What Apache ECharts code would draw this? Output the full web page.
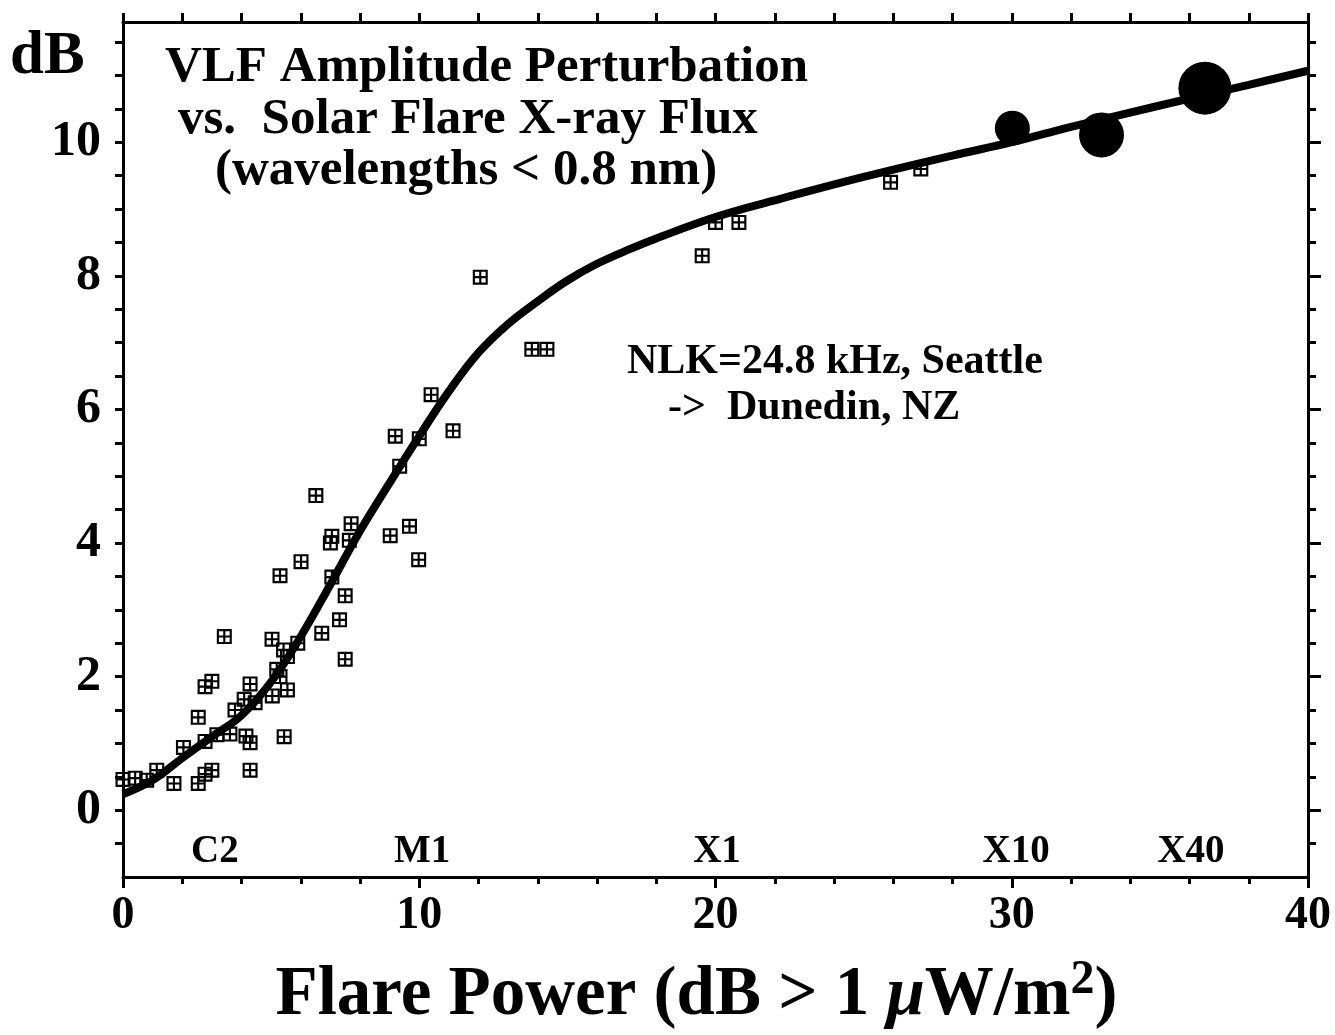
<!DOCTYPE html>
<html>
<head>
<meta charset="utf-8">
<script src="https://cdn.jsdelivr.net/npm/echarts@6/dist/echarts.min.js"></script>
<style>html,body{margin:0;padding:0;background:#fff}#c{width:1335px;height:1035px}</style>
</head>
<body>
<div id="c"></div>
<script>
// ---- data ----
const obsX = [0,0.41,0.8,1.14,1.72,2.04,2.54,2.54,2.77,3.0,2.77,2.77,3.0,3.17,3.42,3.61,3.78,4.09,4.15,4.29,4.29,4.29,4.46,5.03,5.04,5.19,5.3,5.44,5.55,5.42,5.55,5.9,5.3,6.01,6.51,6.71,7.05,7.31,7.5,7.5,7.0,7.05,7.64,7.7,9.02,9.19,9.34,9.67,9.98,10.0,10.4,11.14,12.06,13.8,14.31,19.55,20.0,20.79,25.91,26.93];
const obsY = [0.46,0.48,0.45,0.6,0.4,0.94,1.39,0.4,0.54,0.6,1.03,1.85,1.93,1.13,2.6,1.14,1.5,1.66,1.11,1.01,1.89,0.6,1.61,2.56,1.71,2.11,2.0,1.1,1.8,2.4,2.3,2.5,3.51,3.72,4.71,2.65,3.49,2.85,3.21,2.26,4.0,4.1,4.04,4.29,4.11,5.6,5.15,4.25,3.75,5.56,6.22,5.68,7.98,6.9,6.9,8.3,8.8,8.8,9.4,9.6];
const bigX = [30.02,33.03,36.52];
const bigY = [10.21,10.11,10.81];
const fitX = [0,1,2,3,4,5,6,7,8,9,10,11,12,13,14,15,16,17,18,20,22,25,28,30,32,35,38,40];
const fitY = [0.24,0.45,0.78,1.1,1.42,1.92,2.6,3.38,4.18,4.9,5.6,6.27,6.85,7.28,7.62,7.93,8.18,8.38,8.56,8.88,9.13,9.48,9.8,10.0,10.23,10.55,10.86,11.07];
const classNames = ['C2','M1','X1','X10','X40'];
const classX = [3.1,10.1,20.05,30.15,36.05];
const classY = [-0.62,-0.62,-0.62,-0.62,-0.62];
const yLabelValues = [0,2,4,6,8,10];
const yMinorValues = [-0.5,0,0.5,1,1.5,2,2.5,3,3.5,4,4.5,5,5.5,6,6.5,7,7.5,8,8.5,9,9.5,10,10.5,11,11.5];
const xLabelValues = [0,10,20,30,40];

// ---- styling ----
const FONT = '"Liberation Serif","Times New Roman",serif';
const bigSizes = [35,45,53];
const boxPath = 'path://M0,0H14V14H0Z M2,2V6H6V2Z M8,2V6H12V2Z M2,8V12H6V8Z M8,8V12H12V8Z';

const chart = echarts.init(document.getElementById('c'), null, {renderer:'canvas'});
const axisLine = {show:true, onZero:false, lineStyle:{color:'#000', width:3}};
const tickStyle = {width:3, color:'#000'};
const option = {
  backgroundColor:'#fff',
  animation:false,
  grid:{left:123, right:27, top:22, bottom:158, containLabel:false, outerBoundsMode:'none'},
  xAxis:[
    {type:'value', position:'bottom', min:0, max:40, interval:10,
     axisLine:axisLine,
     axisTick:{show:true, inside:false, length:11, lineStyle:tickStyle},
     minorTick:{show:true, splitNumber:5, length:7, lineStyle:tickStyle},
     splitLine:{show:false},
     axisLabel:{show:true, margin:16, color:'#000', fontFamily:FONT, fontWeight:'bold', fontSize:46,
       customValues:xLabelValues},
     name:'{a|Flare Power (dB > 1 }{m|μ}{a|W/m}{s|2}{a|)}',
     nameLocation:'middle', nameGap:80,
     nameTextStyle:{padding:[0,38,0,0], rich:{
       a:{fontFamily:FONT, fontWeight:'bold', fontSize:69, color:'#000'},
       m:{fontFamily:FONT, fontWeight:'bold', fontStyle:'italic', fontSize:69, color:'#000'},
       s:{fontFamily:FONT, fontWeight:'bold', fontSize:48, color:'#000', verticalAlign:'top', padding:[0,0,30,0]}
     }}
    },
    {type:'value', position:'top', min:0, max:40, interval:2,
     axisLine:axisLine,
     axisTick:{show:true, inside:false, length:9, lineStyle:tickStyle},
     axisLabel:{show:false}, splitLine:{show:false}}
  ],
  yAxis:[
    {type:'value', position:'left', min:-1, max:11.8,
     axisLine:axisLine,
     axisTick:{show:true, inside:false, length:8, lineStyle:tickStyle, customValues:yMinorValues},
     axisLabel:{show:true, margin:22, color:'#000', fontFamily:FONT, fontWeight:'bold', fontSize:50, customValues:yLabelValues},
     splitLine:{show:false}
    },
    {type:'value', position:'right', min:-1, max:11.8,
     axisLine:axisLine,
     axisTick:{show:true, inside:false, length:8, lineStyle:tickStyle, customValues:yMinorValues},
     axisLabel:{show:false}, splitLine:{show:false}},
    {type:'value', position:'right', min:-1, max:11.8,
     axisLine:{show:false, onZero:false},
     axisTick:{show:true, inside:false, length:13, lineStyle:tickStyle, customValues:yLabelValues},
     axisLabel:{show:false}, splitLine:{show:false}}
  ],
  graphic:[
    {type:'text', left:10, top:27,
     style:{text:'dB', font:'bold 61px '+FONT, fill:'#000'}},
    {type:'text', left:165, top:42,
     style:{text:'VLF Amplitude Perturbation', font:'bold 51px '+FONT, fill:'#000'}},
    {type:'text', left:178, top:94,
     style:{text:'vs.  Solar Flare X-ray Flux', font:'bold 51px '+FONT, fill:'#000'}},
    {type:'text', left:215, top:145,
     style:{text:'(wavelengths < 0.8 nm)', font:'bold 51px '+FONT, fill:'#000'}},
    {type:'text', left:627, top:341,
     style:{text:'NLK=24.8 kHz, Seattle', font:'bold 42px '+FONT, fill:'#000'}},
    {type:'text', left:668, top:387,
     style:{text:'->  Dunedin, NZ', font:'bold 42px '+FONT, fill:'#000'}}
  ],
  series:[
    {type:'line', xAxisIndex:0, yAxisIndex:0, smooth:0.4, showSymbol:false, z:2,
     lineStyle:{color:'#000', width:8}, data:fitX.map((x,i)=>[x,fitY[i]])},
    {type:'scatter', xAxisIndex:0, yAxisIndex:0, symbol:boxPath, symbolSize:15, z:3,
     itemStyle:{color:'#000', opacity:1}, data:obsX.map((x,i)=>[x,obsY[i]])},
    {type:'scatter', xAxisIndex:0, yAxisIndex:0, symbol:'circle', z:4,
     symbolSize:(v,p)=>bigSizes[p.dataIndex],
     itemStyle:{color:'#000', opacity:1}, data:bigX.map((x,i)=>[x,bigY[i]])},
    {type:'scatter', xAxisIndex:0, yAxisIndex:0, symbolSize:1, z:5,
     itemStyle:{opacity:0},
     label:{show:true, position:'inside', formatter:p=>p.name, color:'#000', opacity:1, fontFamily:FONT, fontWeight:'bold', fontSize:39},
     data:classNames.map((n,i)=>({name:n, value:[classX[i],classY[i]]}))}
  ]
};
chart.setOption(option);
</script>
</body>
</html>
